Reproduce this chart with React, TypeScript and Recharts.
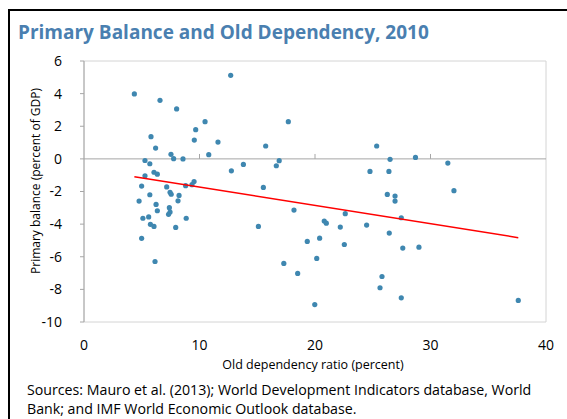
import React from 'react';
import {
  ScatterChart,
  Scatter,
  XAxis,
  YAxis,
  ReferenceLine,
  ReferenceArea
} from 'recharts';

// old dependency ratio (percent) per country
const dependencyRatio = [
  4.36, 6.58, 8.02, 12.7, 5.8, 6.2, 9.67, 9.55, 10.48, 11.6,
  7.53, 7.76, 8.57, 10.8, 5.28, 5.7, 5.28, 6.06, 6.35, 12.76,
  4.99, 7.16, 8.8, 9.53, 9.35, 5.7, 7.45, 7.55, 8.23, 4.77,
  8.14, 6.24, 7.39, 6.35, 7.45, 7.32, 5.1, 5.6, 8.85, 5.75,
  6.06, 7.94, 4.99, 6.15, 17.69, 15.73, 25.34, 16.9, 16.65, 13.8,
  24.76, 26.4, 26.5, 15.53, 26.26, 18.18, 20.8, 20.98, 22.62, 22.19,
  24.47, 26.43, 15.1, 20.4, 19.33, 22.54, 20.15, 17.3, 18.5, 25.8,
  25.63, 19.98, 28.7, 31.5, 32.03, 26.93, 26.93, 27.47, 27.6, 29.0,
  27.47, 37.6
];

// primary balance (percent of GDP), same order
const primaryBalance = [
  3.98, 3.59, 3.06, 5.12, 1.36, 0.66, 1.79, 1.15, 2.28, 1.03,
  0.28, 0.01, 0.0, 0.26, -0.1, -0.3, -1.04, -0.82, -0.94, -0.73,
  -1.67, -1.72, -1.64, -1.39, -1.58, -2.2, -2.05, -2.17, -2.24, -2.59,
  -2.57, -2.79, -2.99, -3.18, -3.26, -3.4, -3.64, -3.56, -3.64, -4.01,
  -4.14, -4.2, -4.87, -6.29, 2.28, 0.79, 0.79, -0.11, -0.42, -0.34,
  -0.77, -0.77, -0.03, -1.75, -2.18, -3.14, -3.81, -3.94, -3.36, -4.18,
  -4.06, -4.55, -4.14, -4.86, -5.06, -5.25, -6.1, -6.41, -7.02, -7.21,
  -7.9, -8.93, 0.09, -0.26, -1.95, -2.28, -2.59, -3.61, -5.47, -5.41,
  -8.52, -8.68
];

// linear trend line end points
const trendX = [4.36, 37.6];
const trendY = [-1.09, -4.83];

const xTicks = [0, 10, 20, 30, 40];
const yTicks = [-10, -8, -6, -4, -2, 0, 2, 4, 6];

const points = dependencyRatio.map((x, i) => ({ x, y: primaryBalance[i] }));
const trend = trendX.map((x, i) => ({ x, y: trendY[i] }));

const FONT = '"Open Sans", "Noto Sans", sans-serif';

const Dot = (props: any) => (
  <circle cx={props.cx} cy={props.cy} r={2.6} fill="#3f87b0" />
);

export default function App() {
  return (
    <div
      style={{
        position: 'absolute',
        left: 0,
        top: 0,
        width: 567,
        height: 419,
        background: '#fff',
        overflow: 'hidden',
        fontFamily: FONT
      }}
    >
      {/* frame */}
      <div
        style={{
          position: 'absolute',
          left: 8,
          top: 9,
          width: 600,
          height: 500,
          borderLeft: '2px solid #000',
          borderTop: '2px solid #000'
        }}
      />
      <div
        style={{
          position: 'absolute',
          left: 18,
          top: 20,
          fontSize: 19,
          fontWeight: 700,
          color: '#4a7fb0',
          whiteSpace: 'nowrap',
          lineHeight: '24px'
        }}
      >
        Primary Balance and Old Dependency, 2010
      </div>

      <div style={{ position: 'absolute', left: 0, top: 0 }}>
        <ScatterChart
          width={567}
          height={419}
          margin={{ top: 61, right: 21, left: 54, bottom: 67 }}
        >
          <ReferenceArea
            x1={0}
            x2={40}
            y1={-10}
            y2={6}
            fill="none"
            stroke="#d4d4d4"
            strokeWidth={1}
          />
          <XAxis
            type="number"
            dataKey="x"
            domain={[0, 40]}
            ticks={xTicks}
            allowDataOverflow
            axisLine={false}
            tickLine={false}
            tickSize={6}
            tickMargin={12}
            height={30}
            tick={{ fill: '#000', fontSize: 14, fontFamily: FONT }}
          />
          <YAxis
            type="number"
            dataKey="y"
            domain={[-10, 6]}
            ticks={yTicks}
            allowDataOverflow
            width={30}
            stroke="#a6a6a6"
            tickSize={4}
            tickMargin={18}
            tick={{ fill: '#000', fontSize: 14, fontFamily: FONT }}
          />
          <ReferenceLine y={0} stroke="#a6a6a6" strokeWidth={1} />
          {[10, 20, 30].map((t) => (
            <ReferenceLine
              key={t}
              segment={[{ x: t, y: 0 }, { x: t, y: 0.3 }]}
              stroke="#a6a6a6"
            />
          ))}
          <Scatter
            data={points}
            shape={Dot}
            isAnimationActive={false}
          />
          <Scatter
            data={trend}
            line={{ stroke: '#ff0000', strokeWidth: 1.5 }}
            shape={() => <g />}
            isAnimationActive={false}
          />
        </ScatterChart>
      </div>

      <div
        style={{
          position: 'absolute',
          left: 35,
          top: 181,
          transform: 'translate(-50%, -50%) rotate(-90deg)',
          fontSize: 12,
          whiteSpace: 'nowrap',
          color: '#000'
        }}
      >
        Primary balance (percent of GDP)
      </div>
      <div
        style={{
          position: 'absolute',
          left: 313,
          top: 357,
          transform: 'translateX(-50%)',
          fontSize: 12.5,
          whiteSpace: 'nowrap',
          color: '#000',
          lineHeight: '16px'
        }}
      >
        Old dependency ratio (percent)
      </div>
      <div
        style={{
          position: 'absolute',
          left: 27,
          top: 380,
          fontSize: 14.2,
          lineHeight: '19px',
          color: '#000',
          whiteSpace: 'nowrap'
        }}
      >
        Sources: Mauro et al. (2013); World Development Indicators database, World
        <br />
        Bank; and IMF World Economic Outlook database.
      </div>
    </div>
  );
}
